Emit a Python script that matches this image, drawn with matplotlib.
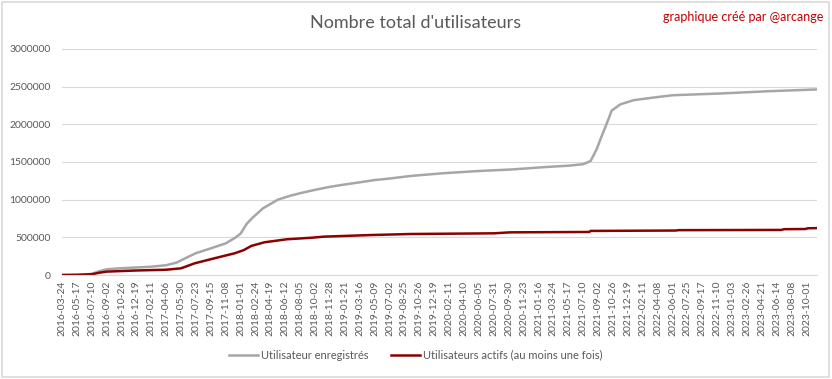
import numpy as np
import matplotlib.pyplot as plt
from matplotlib.patches import Rectangle

# tick labels of the category axis (one every 54 rows of the source table)
dates = ["2016-03-24", "2016-05-17", "2016-07-10", "2016-09-02", "2016-10-26", "2016-12-19",
         "2017-02-11", "2017-04-06", "2017-05-30", "2017-07-23", "2017-09-15", "2017-11-08",
         "2018-01-01", "2018-02-24", "2018-04-19", "2018-06-12", "2018-08-05", "2018-10-02",
         "2018-11-28", "2019-01-21", "2019-03-16", "2019-05-09", "2019-07-02", "2019-08-25",
         "2019-10-26", "2019-12-19", "2020-02-11", "2020-04-10", "2020-06-05", "2020-07-31",
         "2020-09-30", "2020-11-23", "2021-01-16", "2021-03-24", "2021-05-17", "2021-07-10",
         "2021-09-02", "2021-10-26", "2021-12-19", "2022-02-11", "2022-04-08", "2022-06-01",
         "2022-07-25", "2022-09-17", "2022-11-10", "2023-01-03", "2023-02-26", "2023-04-21",
         "2023-06-14", "2023-08-08", "2023-10-01"]
step = 54

# registered users (row number in table, value)
reg_row = [0, 54, 108, 135, 162, 216, 270, 324, 378, 416, 454, 486, 540, 594, 626, 648, 670,
           691, 729, 783, 826, 869, 918, 972, 1015, 1080, 1134, 1188, 1264, 1382, 1512,
           1630, 1760, 1836, 1890, 1917, 1939, 1960, 1982, 1993, 2025, 2074, 2144, 2214,
           2398, 2560, 2738]
reg_val = [0, 2000, 15000, 50000, 75000, 90000, 100000, 110000, 130000, 165000, 235000,
           290000, 354000, 420000, 490000, 550000, 680000, 760000, 885000, 1000000, 1050000,
           1090000, 1130000, 1170000, 1195000, 1230000, 1260000, 1280000, 1314000, 1350000,
           1380000, 1400000, 1434000, 1450000, 1470000, 1513000, 1670000, 1870000, 2070000,
           2180000, 2265000, 2320000, 2354000, 2385000, 2410000, 2438000, 2462000]

# active users
act_row = [0, 54, 108, 135, 162, 270, 378, 432, 481, 551, 626, 659, 686, 734, 815, 907,
           950, 1118, 1264, 1566, 1625, 1912, 1917, 2225, 2236, 2608, 2619, 2695, 2705, 2738]
act_val = [0, 2000, 10000, 30000, 45000, 60000, 70000, 89000, 155000, 220000, 288000,
           330000, 385000, 434000, 474000, 495000, 509000, 530000, 544000, 553000, 566000,
           571000, 585000, 590000, 595000, 598000, 608000, 610000, 620000, 622000]

fig = plt.figure(figsize=(8.32, 3.79), dpi=100)
plt.rcParams['font.family'] = ['Lato', 'DejaVu Sans']
ax = fig.add_axes([0.0745, 0.2744, 0.9075, 0.5966])

ax.plot(reg_row, reg_val, color='#a6a6a6', lw=1.8, label="Utilisateur enregistrés")
ax.plot(act_row, act_val, color='#8b0000', lw=1.8, label="Utilisateurs actifs (au moins une fois)")

ax.set_xlim(0, reg_row[-1])
ax.set_ylim(0, 3000000)
ax.set_yticks(np.arange(0, 3000001, 500000))
ax.set_yticklabels([str(v) for v in range(0, 3000001, 500000)])
ax.set_xticks(np.arange(len(dates)) * step)
ax.set_xticklabels(dates, rotation=90)
ax.tick_params(length=0, colors='#595959', labelsize=7.5)
ax.tick_params(axis='y', pad=8)
ax.tick_params(axis='x', pad=4)
ax.grid(axis='y', color='#d9d9d9', lw=0.8)
ax.set_axisbelow(True)
for s in ['top', 'right', 'left']:
    ax.spines[s].set_visible(False)
ax.spines['bottom'].set_color('#d9d9d9')

fig.text(0.5, 0.94, "Nombre total d'utilisateurs", ha='center', va='center',
         fontsize=13, color='#595959')
fig.text(0.99, 0.955, "graphique créé par @arcange", ha='right', va='center',
         fontsize=9, color='#c00000')
fig.legend(loc='center', bbox_to_anchor=(0.5, 0.063), ncol=2, frameon=False,
           fontsize=8, labelcolor='#595959', handlelength=2.6, columnspacing=2.0,
           handletextpad=0.3)

fig.patches.append(Rectangle((0.002, 0.004), 0.994, 0.992, transform=fig.transFigure,
                             fill=False, edgecolor='#d9d9d9', lw=1.2))

fig.savefig("out.png", dpi=100)
